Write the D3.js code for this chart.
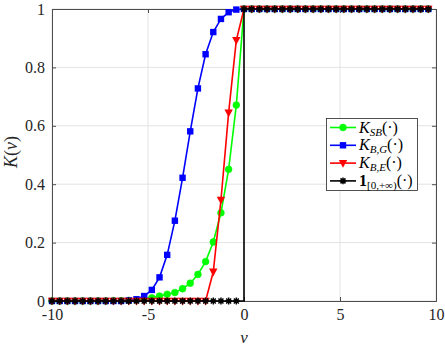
<!DOCTYPE html>
<html><head><meta charset="utf-8">
<script src="https://cdn.jsdelivr.net/npm/d3@7"></script>
<style>body{margin:0;background:#fff}svg{display:block}</style>
</head><body><svg id="c" width="445" height="346"></svg>
<script>
const nu = [-10,-9.6,-9.2,-8.8,-8.4,-8,-7.6,-7.2,-6.8,-6.4,-6,-5.6,-5.2,-4.8,-4.4,-4,-3.6,-3.2,-2.8,-2.4,-2,-1.6,-1.2,-0.8,-0.4,
  0,0.4,0.8,1.2,1.6,2,2.4,2.8,3.2,3.6,4,4.4,4.8,5.2,5.6,6,6.4,6.8,7.2,7.6,8,8.4,8.8,9.2,9.6];
const kSB = [0,0,0,0,0,0,0,0,0.001,0.001,0.002,0.004,0.007,0.011,0.017,0.023,0.029,0.042,0.061,0.091,0.135,0.202,0.302,0.451,0.671,
  1,1,1,1,1,1,1,1,1,1,1,1,1,1,1,1,1,1,1,1,1,1,1,1,1];
const kBG = [0,0,0,0,0,0,0,0,0,0,0.002,0.006,0.017,0.038,0.081,0.158,0.275,0.422,0.581,0.728,0.845,0.921,0.966,0.989,0.998,
  1,1,1,1,1,1,1,1,1,1,1,1,1,1,1,1,1,1,1,1,1,1,1,1,1];
const kBE = [0,0,0,0,0,0,0,0,0,0,0,0,0,0,0,0,0,0,0,0,0,0.10,0.346,0.645,0.893,
  1,1,1,1,1,1,1,1,1,1,1,1,1,1,1,1,1,1,1,1,1,1,1,1,1];
const kStep = [0,0,0,0,0,0,0,0,0,0,0,0,0,0,0,0,0,0,0,0,0,0,0,0,0,
  1,1,1,1,1,1,1,1,1,1,1,1,1,1,1,1,1,1,1,1,1,1,1,1,1];
const xTicks = [-10,-5,0,5,10];
const yTicks = [0,0.2,0.4,0.6,0.8,1];
const yTickLabels = ["0","0.2","0.4","0.6","0.8","1"];

const FONT = "'Liberation Serif','Tinos','Times New Roman','Noto Serif','DejaVu Serif','Times',serif";
const svg = d3.select("#c");
const L=52,R=436,T=9,B=301;
const x = d3.scaleLinear().domain([-10,10]).range([L,R]);
const y = d3.scaleLinear().domain([0,1]).range([B,T]);

// grid
const g = svg.append("g");
g.selectAll(".gx").data(xTicks).enter().append("line").attr("x1",d=>x(d)).attr("x2",d=>x(d)).attr("y1",T).attr("y2",B).attr("stroke","#e3e3e3").attr("stroke-width",1);
g.selectAll(".gy").data(yTicks).enter().append("line").attr("y1",d=>y(d)).attr("y2",d=>y(d)).attr("x1",L).attr("x2",R).attr("stroke","#e3e3e3").attr("stroke-width",1);

// axes (ticks inward)
const axC="#4d4d4d";
const ax = [
  svg.append("g").attr("transform",`translate(0,${B})`).call(d3.axisBottom(x).tickValues(xTicks).tickSize(-4).tickPadding(8).tickFormat(d=>d<0?"-"+Math.abs(d):String(d))),
  svg.append("g").attr("transform",`translate(0,${T})`).call(d3.axisTop(x).tickValues(xTicks).tickSize(-4).tickFormat("")),
  svg.append("g").attr("transform",`translate(${L},0)`).call(d3.axisLeft(y).tickValues(yTicks).tickSize(-4).tickPadding(7).tickFormat((d,i)=>yTickLabels[i])),
  svg.append("g").attr("transform",`translate(${R},0)`).call(d3.axisRight(y).tickValues(yTicks).tickSize(-4).tickFormat(""))
];
ax.forEach(a=>{a.attr("font-family",FONT);a.select(".domain").attr("stroke",axC).attr("stroke-width",1);a.selectAll(".tick line").attr("stroke",axC);
  a.selectAll("text").attr("font-size",16).attr("fill","#262626");});

const idx = d3.range(nu.length);
const series = [
  {v:kSB,c:"#00ff00",m:"circle"},
  {v:kBG,c:"#0000ff",m:"square"},
  {v:kBE,c:"#ff0000",m:"tri"},
  {v:kStep,c:"#000000",m:"star",step:true}
];
function marker(sel,m,c){
  if(m==="circle") sel.append("circle").attr("r",3.4).attr("fill",c).attr("stroke",c).attr("stroke-width",0.6);
  else if(m==="square") sel.append("rect").attr("x",-3.2).attr("y",-3.2).attr("width",6.4).attr("height",6.4).attr("fill",c);
  else if(m==="tri") sel.append("path").attr("d","M-4.2,-3.2L4.2,-3.2L0,4.6Z").attr("fill",c);
  else sel.append("path").attr("d","M-3.4,0L3.4,0M0,-3.4L0,3.4M-2.5,-2.5L2.5,2.5M-2.5,2.5L2.5,-2.5").attr("stroke",c).attr("stroke-width",1.5);
}
series.forEach(s=>{
  const line = d3.line().x(i=>x(nu[i])).y(i=>y(s.v[i]));
  if(s.step) line.curve(d3.curveStepAfter);
  svg.append("path").attr("d",line(idx)).attr("fill","none").attr("stroke",s.c).attr("stroke-width",1.6);
  idx.forEach(i=>{ marker(svg.append("g").attr("transform",`translate(${x(nu[i])},${y(s.v[i])})`),s.m,s.c); });
});

// labels
svg.append("text").attr("x",x(0)).attr("y",343).attr("text-anchor","middle").attr("font-family",FONT).attr("font-size",17).attr("font-style","italic").attr("fill","#262626").text("ν");
svg.append("text").attr("transform","translate(17,152) rotate(-90)").attr("text-anchor","middle").attr("font-family",FONT).attr("font-size",18).attr("fill","#262626")
  .html('<tspan font-style="italic">K</tspan>(<tspan font-style="italic">ν</tspan>)');

// legend
const lg = svg.append("g").attr("font-family",FONT);
lg.append("rect").attr("x",326.5).attr("y",118.5).attr("width",91).attr("height",72).attr("fill","#fff").attr("stroke","#262626").attr("stroke-width",0.8);
const subs = ['SB','B,G','B,E','[0,+∞)'];
series.forEach((s,i)=>{
  const yy = 127.5+ i*17.8;
  lg.append("line").attr("x1",330).attr("x2",356).attr("y1",yy).attr("y2",yy).attr("stroke",s.c).attr("stroke-width",1.6);
  marker(lg.append("g").attr("transform",`translate(343,${yy})`),s.m,s.c);
  const t = lg.append("text").attr("x",359).attr("y",yy+5).attr("font-size",16).attr("fill","#000");
  if(i<3){
    t.append("tspan").attr("font-style","italic").text("K");
    t.append("tspan").attr("font-style","italic").attr("font-size",11).attr("dy",3).text(subs[i]);
    t.append("tspan").attr("dy",-3).text("(·)");
  } else {
    t.append("tspan").attr("font-weight","bold").text("1");
    t.append("tspan").attr("font-size",11).attr("dy",3).text(subs[i]);
    t.append("tspan").attr("dy",-3).text("(·)");
  }
});
</script></body></html>
